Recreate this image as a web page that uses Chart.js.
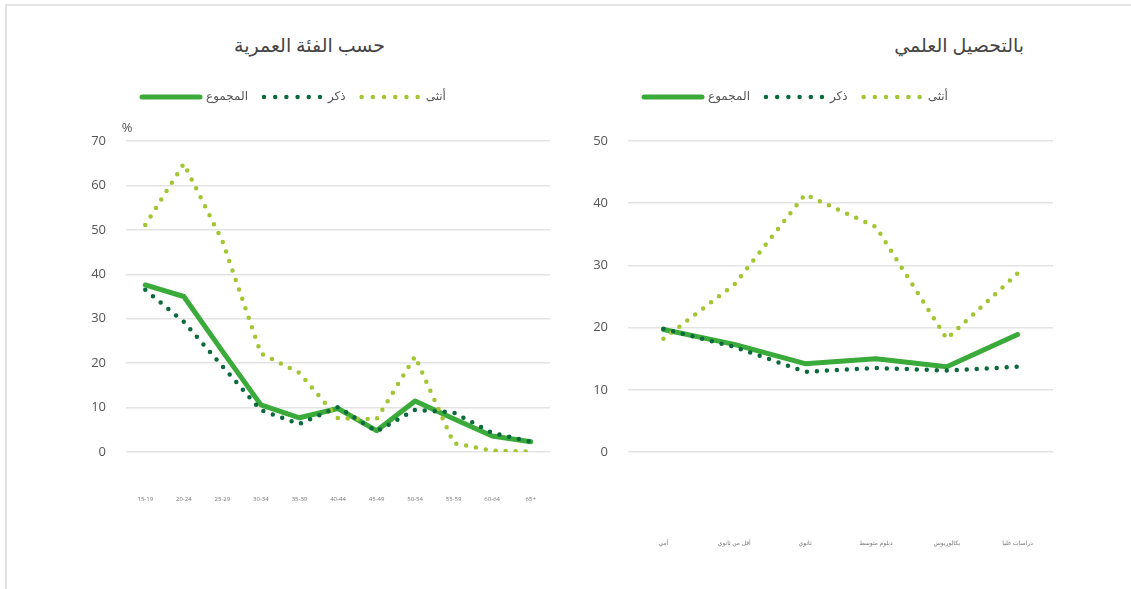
<!DOCTYPE html>
<html lang="ar">
<head>
<meta charset="utf-8">
<title>البطالة</title>
<script src="https://cdn.jsdelivr.net/npm/chart.js@4.4.1/dist/chart.umd.min.js"></script>
<style>
  body { margin: 0; background: #fff; width: 1131px; height: 589px; overflow: hidden; position: relative;
         font-family: 'Open Sans', 'DejaVu Sans', sans-serif; }
  .frame { position: absolute; left: 5px; top: 4px; right: -2px; bottom: -2px;
           border-top: 2px solid #e3e3e3; border-left: 2px solid #e3e3e3; }
  .title { position: absolute; top: 32px; font-size: 19px; color: #444; direction: rtl; white-space: nowrap; }
  .box { position: absolute; top: 0; height: 589px; }
</style>
</head>
<body>
<div class="frame"></div>
<div class="title" style="right:746px">حسب الفئة العمرية</div>
<div class="title" style="right:107px">بالتحصيل العلمي</div>
<div class="box" style="left:0;width:565px"><canvas id="ageChart"></canvas></div>
<div class="box" style="left:565px;width:566px"><canvas id="eduChart"></canvas></div>

<script>
// الفئات العمرية
const ageLabels = ['15-19', '20-24', '25-29', '30-34', '35-39', '40-44', '45-49', '50-54', '55-59', '60-64', '65+'];
const ageTotal  = [37.6, 35.0, 22.7, 10.6, 7.7, 9.8, 4.8, 11.5, 7.5, 3.6, 2.3];
const ageMale   = [36.5, 29.3, 19.3, 9.4, 6.3, 10.1, 4.6, 9.5, 8.9, 4.3, 2.3];
const ageFemale = [51.1, 64.9, 47.5, 22.2, 17.8, 7.6, 7.4, 21.5, 2.0, 0.3, 0.1];

// التحصيل العلمي
const eduLabels = ['أمي', 'أقل من ثانوي', 'ثانوي', 'دبلوم متوسط', 'بكالوريوس', 'دراسات عليا'];
const eduTotal  = [19.7, 17.3, 14.2, 15.0, 13.7, 18.9];
const eduMale   = [19.8, 16.9, 12.9, 13.5, 13.1, 13.7];
const eduFemale = [18.2, 26.9, 41.4, 36.2, 18.2, 28.7];

const seriesNames = ['المجموع', 'ذكر', 'أنثى'];
const ageTicks = [0, 10, 20, 30, 40, 50, 60, 70];
const eduTicks = [0, 10, 20, 30, 40, 50];

Chart.defaults.font.family = "'Open Sans', 'DejaVu Sans', sans-serif";
Chart.defaults.animation = false;

const GREEN = '#3aaa3a', DARK = '#0b6a3d', LIGHT = '#a3c532';

// يزيد المسافة تحت وسيلة الإيضاح
const legendGap = {
  id: 'legendGap',
  beforeInit(chart, args, opts) {
    if (!chart.legend) return;
    const fit = chart.legend.fit;
    chart.legend.fit = function () {
      fit.call(this);
      this.height += opts.extra || 0;
    };
  }
};

// علامة % فوق المحور
const percentSign = {
  id: 'percentSign',
  afterDraw(chart, args, opts) {
    if (!opts.show) return;
    const {ctx, chartArea} = chart;
    ctx.save();
    ctx.font = "13px 'Open Sans', 'DejaVu Sans', sans-serif";
    ctx.fillStyle = '#555';
    ctx.textAlign = 'center';
    ctx.textBaseline = 'middle';
    ctx.fillText('%', chartArea.left + 1, chartArea.top - 13);
    ctx.restore();
  }
};

function makeChart(id, labels, total, male, female, ticks, cfg) {
  const yMax = ticks[ticks.length - 1];
  return new Chart(document.getElementById(id), {
    type: 'line',
    data: {
      labels: labels,
      datasets: [
        { label: seriesNames[0], data: total, borderColor: GREEN, borderWidth: 5,
          borderCapStyle: 'round', borderJoinStyle: 'round', order: 3 },
        { label: seriesNames[1], data: male, borderColor: DARK, borderWidth: 4.5,
          borderDash: [0, 10], borderCapStyle: 'round', order: 1 },
        { label: seriesNames[2], data: female, borderColor: LIGHT, borderWidth: 4.5,
          borderDash: [0, 10], borderCapStyle: 'round', order: 2 }
      ]
    },
    options: {
      responsive: true,
      maintainAspectRatio: false,
      elements: { point: { radius: 0 }, line: { tension: 0, fill: false } },
      layout: { padding: { top: 75, right: cfg.padRight, left: 0, bottom: 0 } },
      plugins: {
        tooltip: { enabled: false },
        legendGap: { extra: 28 },
        percentSign: { show: cfg.percent },
        legend: {
          position: 'top',
          align: 'start',
          fullSize: false,
          labels: {
            usePointStyle: true,
            pointStyleWidth: 58,
            padding: 16,
            color: '#555',
            font: { size: 12 },
            generateLabels: chart => chart.data.datasets.map((ds, i) => ({
              text: ds.label,
              strokeStyle: ds.borderColor,
              fillStyle: ds.borderColor,
              lineWidth: ds.borderWidth,
              lineDash: ds.borderDash ? [0, 11.2] : [],
              lineCap: 'round',
              pointStyle: 'line',
              fontColor: '#555',
              hidden: false,
              datasetIndex: i
            }))
          }
        }
      },
      scales: {
        x: {
          offset: true,
          grid: { display: false },
          border: { display: false },
          ticks: { font: { size: 6 }, color: '#777', padding: cfg.xPad, maxRotation: 0, autoSkip: false },
          afterFit: s => { s.height = 137; s.paddingLeft = 0; s.paddingRight = 0; }
        },
        y: {
          min: 0,
          max: yMax,
          afterBuildTicks: s => { s.ticks = ticks.map(v => ({ value: v })); },
          ticks: { padding: 20, color: '#555', font: { size: 13 } },
          grid: { color: '#e4e4e4', lineWidth: 1.5, drawTicks: false },
          border: { display: false },
          afterFit: s => { s.width = cfg.yWidth; }
        }
      }
    },
    plugins: [legendGap, percentSign]
  });
}

makeChart('ageChart', ageLabels, ageTotal, ageMale, ageFemale, ageTicks,
  { padRight: 15, yWidth: 126, xPad: 36, percent: true });
makeChart('eduChart', eduLabels, eduTotal, eduMale, eduFemale, eduTicks,
  { padRight: 78, yWidth: 63, xPad: 80, percent: false });
</script>
</body>
</html>
